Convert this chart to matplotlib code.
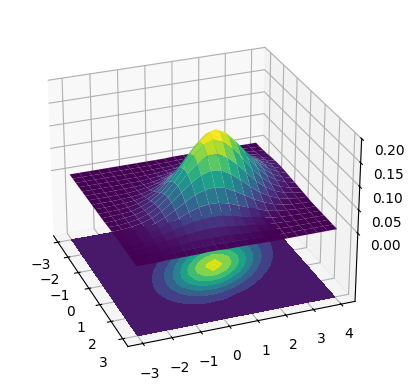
import numpy as np
import matplotlib
matplotlib.use("Agg")
import matplotlib.pyplot as plt
from matplotlib import cm

x_values = [-3.0, -2.7, -2.4, -2.1, -1.8, -1.5, -1.2, -0.9, -0.6, -0.3, 0.0,
            0.3, 0.6, 0.9, 1.2, 1.5, 1.8, 2.1, 2.4, 2.7, 3.0]
y_values = [-3.0, -2.65, -2.3, -1.95, -1.6, -1.25, -0.9, -0.55, -0.2, 0.15, 0.5,
            0.85, 1.2, 1.55, 1.9, 2.25, 2.6, 2.95, 3.3, 3.65, 4.0]

# surface height in thousandths, one row per y value
z_milli = [
    [0, 0, 0, 0, 0, 0, 0, 0, 0, 0, 0, 0, 1, 1, 1, 1, 1, 1, 0, 0, 0],
    [0, 0, 0, 0, 0, 0, 0, 0, 0, 0, 1, 1, 1, 2, 2, 2, 1, 1, 1, 0, 0],
    [0, 0, 0, 0, 0, 0, 0, 0, 1, 1, 2, 3, 3, 4, 4, 3, 3, 2, 1, 1, 0],
    [0, 0, 0, 0, 0, 0, 0, 1, 2, 3, 4, 6, 7, 8, 8, 7, 5, 4, 2, 1, 1],
    [0, 0, 0, 0, 0, 1, 1, 2, 4, 7, 10, 12, 14, 15, 14, 12, 9, 6, 4, 2, 1],
    [0, 0, 0, 0, 1, 1, 3, 5, 9, 14, 19, 23, 26, 26, 23, 19, 14, 9, 5, 3, 1],
    [0, 0, 0, 0, 1, 3, 6, 10, 17, 25, 34, 40, 43, 41, 35, 27, 19, 12, 7, 3, 1],
    [0, 0, 0, 1, 3, 5, 11, 19, 30, 43, 54, 62, 64, 59, 48, 36, 24, 14, 8, 4, 2],
    [0, 0, 1, 2, 5, 10, 19, 32, 48, 66, 80, 88, 86, 76, 60, 43, 27, 16, 8, 4, 2],
    [0, 1, 1, 4, 8, 17, 30, 49, 70, 91, 107, 112, 105, 89, 67, 46, 28, 15, 8, 3, 1],
    [0, 1, 2, 6, 13, 25, 42, 66, 92, 115, 130, 132, 117, 95, 69, 45, 27, 14, 7, 3, 1],
    [1, 2, 4, 9, 18, 33, 55, 82, 110, 134, 146, 140, 118, 92, 64, 40, 22, 11, 5, 2, 1],
    [1, 2, 5, 12, 23, 41, 65, 93, 120, 140, 145, 131, 107, 80, 53, 32, 17, 8, 4, 1, 0],
    [1, 3, 7, 14, 27, 45, 69, 94, 116, 130, 128, 112, 89, 64, 41, 24, 12, 6, 2, 1, 0],
    [1, 3, 8, 16, 28, 46, 67, 88, 103, 109, 103, 88, 67, 46, 28, 16, 8, 3, 1, 0, 0],
    [2, 4, 8, 16, 27, 42, 59, 74, 83, 84, 76, 62, 45, 30, 18, 9, 4, 2, 1, 0, 0],
    [2, 4, 7, 14, 23, 35, 46, 56, 61, 59, 51, 40, 28, 18, 10, 5, 2, 1, 0, 0, 0],
    [1, 3, 6, 11, 18, 26, 33, 39, 40, 37, 31, 23, 16, 9, 5, 3, 1, 0, 0, 0, 0],
    [1, 3, 5, 8, 13, 18, 22, 24, 24, 21, 17, 12, 8, 5, 2, 1, 0, 0, 0, 0, 0],
    [1, 2, 3, 6, 8, 11, 13, 14, 13, 11, 9, 6, 4, 2, 1, 0, 0, 0, 0, 0, 0],
    [1, 1, 2, 3, 5, 6, 7, 7, 6, 5, 4, 3, 2, 1, 0, 0, 0, 0, 0, 0, 0],
]
z_ticks = [0.0, 0.05, 0.1, 0.15, 0.2]

X, Y = np.meshgrid(x_values, y_values)
Z = np.array(z_milli) / 1000

fig = plt.figure()
ax = fig.add_subplot(projection='3d')

ax.plot_surface(X, Y, Z, rstride=1, cstride=1, linewidth=1, antialiased=True, cmap=cm.viridis)
ax.contourf(X, Y, Z, zdir='z', offset=-0.15, cmap=cm.viridis)

ax.set_zlim(-0.15, 0.2)
ax.set_zticks(z_ticks)
ax.view_init(27, -21)

plt.savefig("out.png", bbox_inches='tight')
